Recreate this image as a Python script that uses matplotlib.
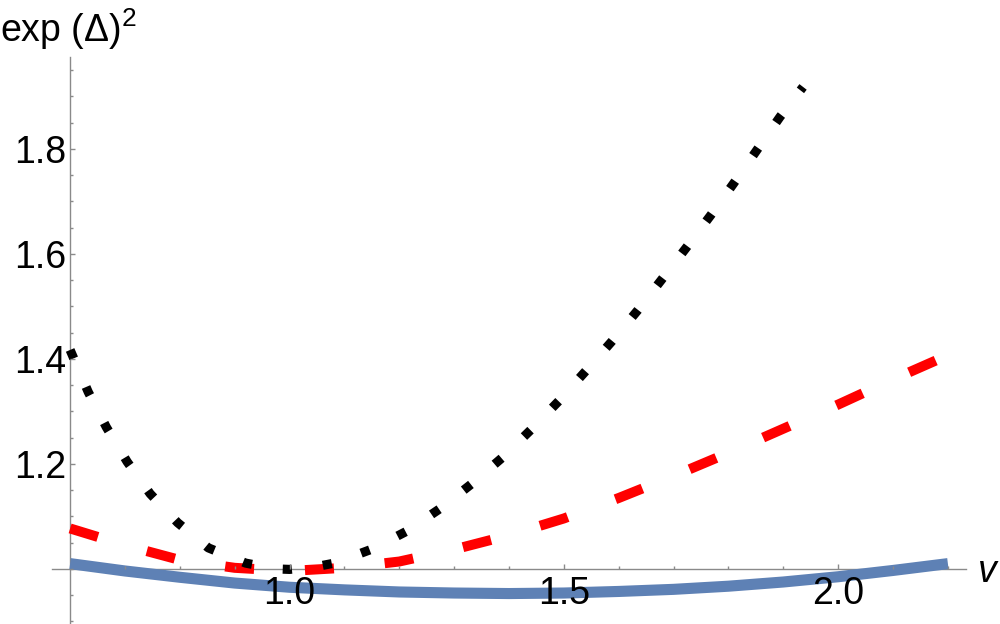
import matplotlib.pyplot as plt
import numpy as np

plt.rcParams['font.family'] = ['Liberation Sans', 'DejaVu Sans']
plt.rcParams['mathtext.fontset'] = 'custom'
plt.rcParams['mathtext.rm'] = 'Liberation Sans'
plt.rcParams['mathtext.it'] = 'Liberation Sans:italic'

# values
v_blue = [0.6, 0.7, 0.8, 0.9, 1.0, 1.1, 1.2, 1.3, 1.4, 1.5, 1.6, 1.7, 1.8, 1.9, 2.0, 2.1, 2.2]
y_blue = [1.010, 0.996, 0.984, 0.973, 0.965, 0.960, 0.956, 0.954, 0.953, 0.954, 0.957,
          0.961, 0.967, 0.975, 0.985, 0.997, 1.010]

v_red = [0.6, 0.7, 0.8, 0.9, 1.0, 1.1, 1.2, 1.3, 1.4, 1.5, 1.6, 1.7, 1.8, 1.9, 2.0, 2.1, 2.2]
y_red = [1.077, 1.045, 1.017, 1.002, 0.996, 1.002, 1.014, 1.037, 1.064, 1.096, 1.135,
         1.177, 1.221, 1.267, 1.313, 1.361, 1.407]

v_black = [0.600, 0.633, 0.666, 0.704, 0.746, 0.796, 0.852, 0.920, 0.974, 1.000, 1.047,
           1.082, 1.151, 1.214, 1.276, 1.332, 1.389, 1.440, 1.491, 1.540, 1.588, 1.635,
           1.679, 1.724, 1.768, 1.810, 1.852, 1.894, 1.936]
y_black = [1.417, 1.337, 1.270, 1.204, 1.143, 1.088, 1.040, 1.011, 1.000, 0.999, 1.004,
           1.011, 1.038, 1.072, 1.116, 1.162, 1.213, 1.265, 1.320, 1.377, 1.434, 1.493,
           1.552, 1.613, 1.674, 1.735, 1.798, 1.861, 1.918]

x_major = [1.0, 1.5, 2.0]
y_major = [1.2, 1.4, 1.6, 1.8]
x_label = "v"
y_label = "exp (Δ)$^2$"

axis_gray = '#8a8a8a'

fig = plt.figure(figsize=(10, 6.24), dpi=100)
ax = fig.add_axes([0.052, 0.0, 0.914, 567 / 624])
ax.set_xlim(0.567, 2.233)
ax.set_ylim(0.895, 1.975)

ax.plot(v_blue, y_blue, color='#5E81B5', lw=8, solid_capstyle='butt', zorder=3)
ax.plot(v_red, y_red, color='#FF0000', lw=7.2, dashes=(2.9, 5.1),
        dash_capstyle='butt', zorder=4)
ax.plot(v_black, y_black, color='black', lw=6.6, dashes=(1, 3.4),
        dash_capstyle='butt', zorder=5)

for s in ['top', 'right']:
    ax.spines[s].set_visible(False)
ax.spines['left'].set_position(('data', 0.6))
ax.spines['bottom'].set_position(('data', 1.0))
for s in ['left', 'bottom']:
    ax.spines[s].set_color(axis_gray)
    ax.spines[s].set_linewidth(1.0)
    ax.spines[s].set_zorder(1)
# tick labels sit on top of the curves, as in the reference
ax.xaxis.set_zorder(6)
ax.yaxis.set_zorder(6)

ax.set_xticks(x_major)
ax.set_xticklabels(["%.1f" % t for t in x_major])
ax.set_xticks([t for t in np.arange(0.7, 2.25, 0.1)
               if min(abs(t - m) for m in x_major) > 1e-6], minor=True)
ax.set_yticks(y_major)
ax.set_yticklabels(["%.1f" % t for t in y_major])
ax.set_yticks([t for t in np.arange(0.9, 1.96, 0.05)
               if min(abs(t - m) for m in y_major) > 1e-6], minor=True)

ax.tick_params(which='both', direction='in', color=axis_gray, width=1.0,
               labelsize=27, labelcolor='black')
ax.tick_params(which='major', length=3.8)
ax.tick_params(which='minor', length=2.2)
ax.tick_params(axis='x', which='major', pad=5)
ax.tick_params(axis='y', which='major', pad=3)

fig.text(0.0, 1 - 42 / 624, y_label, fontsize=27, ha='left', va='baseline')
fig.text(0.978, 1 - 582 / 624, x_label, fontsize=27, style='italic',
         ha='left', va='baseline')

fig.savefig('out.png', dpi=100)
